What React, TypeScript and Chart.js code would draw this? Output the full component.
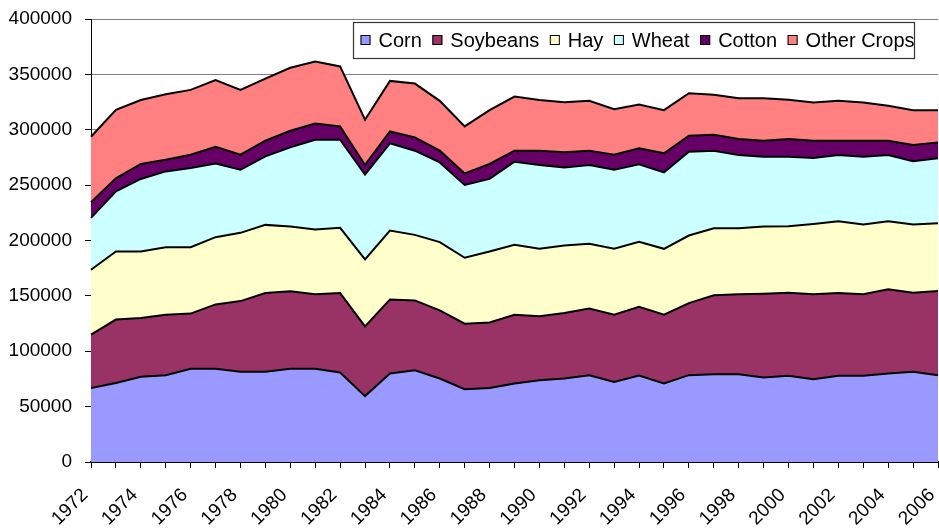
import React, { useEffect, useRef } from "react";
import { Chart, registerables } from "chart.js";

Chart.register(...registerables);

const years = [
  "1972", "1973", "1974", "1975", "1976", "1977", "1978", "1979", "1980", "1981",
  "1982", "1983", "1984", "1985", "1986", "1987", "1988", "1989", "1990", "1991",
  "1992", "1993", "1994", "1995", "1996", "1997", "1998", "1999", "2000", "2001",
  "2002", "2003", "2004", "2005", "2006",
];

const corn = [
  66900, 71400, 76900, 78400, 84100, 84100, 81400, 81400, 84100, 84100,
  80800, 59500, 79900, 82900, 75400, 65800, 66900, 70900, 73900, 75400,
  78400, 72300, 78100, 70900, 78400, 79300, 79300, 76300, 77800, 74800,
  77800, 77800, 79900, 81400, 78400,
];
const soybeans = [
  48100, 57200, 53100, 54600, 49900, 58200, 63900, 71100, 70000, 67300,
  71700, 63000, 66900, 63000, 61500, 59100, 59000, 62100, 57600, 59100,
  60100, 60700, 62100, 62100, 65100, 71200, 72100, 75700, 75100, 76600,
  74700, 73600, 76000, 71500, 75900,
];
const hay = [
  58600, 61500, 60100, 61000, 60000, 60700, 61600, 61600, 58500, 58500,
  58900, 60400, 62200, 59200, 61600, 59500, 64200, 63100, 61000, 61000,
  58500, 59500, 58600, 59500, 61000, 60600, 59700, 60600, 60000, 63600,
  64900, 63000, 61500, 61500, 61300,
];
const wheat = [
  46800, 54300, 65500, 68400, 71500, 66600, 57100, 61900, 71500, 81100,
  79600, 76600, 78700, 76000, 72000, 65800, 65500, 75100, 75700, 70500,
  71200, 71500, 70000, 69000, 75700, 70000, 66100, 63100, 62800, 59500,
  59800, 61300, 59800, 57100, 58600,
];
const cotton = [
  14100, 11700, 13500, 10600, 12000, 15100, 13500, 14100, 15000, 14700,
  12000, 8700, 10800, 12000, 10600, 10400, 13500, 9900, 12900, 13600,
  12900, 13500, 14400, 17200, 14400, 14400, 14400, 14400, 15900, 15600,
  12900, 14400, 12900, 14700, 14400,
];
const otherCrops = [
  59200, 61900, 57700, 59100, 58500, 60100, 58500, 56100, 56900, 56000,
  54200, 40800, 45600, 48600, 45000, 42400, 48600, 48900, 45700, 45200,
  45000, 41100, 39600, 39000, 38400, 36000, 36900, 38400, 35400, 34500,
  36000, 34500, 31500, 31500, 29100,
];

const seriesNames = ["Corn", "Soybeans", "Hay", "Wheat", "Cotton", "Other Crops"];
const seriesValues = [corn, soybeans, hay, wheat, cotton, otherCrops];
const seriesColors = ["#9999FF", "#993366", "#FFFFCC", "#CCFFFF", "#660066", "#FF8080"];

const FONT = '"Liberation Sans", Arial, sans-serif';

const boxLegend = {
  id: "boxLegend",
  afterDraw(chart: any) {
    const ctx = chart.ctx as CanvasRenderingContext2D;
    const bx = 353.5, by = 22.5, bw = 561, bh = 36;
    ctx.save();
    ctx.fillStyle = "#ffffff";
    ctx.fillRect(bx, by, bw, bh);
    ctx.beginPath();
    ctx.rect(bx, by, bw, bh);
    ctx.clip();
    ctx.font = `20px ${FONT}`;
    ctx.textBaseline = "middle";
    ctx.textAlign = "left";
    let x = 360.5;
    const cy = 40;
    chart.data.datasets.forEach((ds: any) => {
      ctx.fillStyle = ds.backgroundColor;
      ctx.fillRect(x, cy - 5, 10, 10);
      ctx.strokeStyle = "#000";
      ctx.lineWidth = 1;
      ctx.strokeRect(x + 0.5, cy - 4.5, 9, 9);
      ctx.fillStyle = "#000";
      ctx.fillText(ds.label, x + 18, cy + 1);
      x += 18 + ctx.measureText(ds.label).width + 10.5;
    });
    ctx.restore();
    ctx.save();
    ctx.strokeStyle = "#333";
    ctx.lineWidth = 1.2;
    ctx.strokeRect(bx, by, bw, bh);
    ctx.restore();
  },
};

const zeroPad = (s: any) => {
  s.paddingTop = 0;
  s.paddingBottom = 0;
  s.paddingLeft = 0;
  s.paddingRight = 0;
};

export default function App() {
  const canvasRef = useRef<HTMLCanvasElement | null>(null);

  useEffect(() => {
    if (!canvasRef.current) return;
    const chart = new Chart(canvasRef.current, {
      type: "line",
      data: {
        labels: years,
        datasets: seriesNames.map((name, i) => ({
          label: name,
          data: seriesValues[i],
          backgroundColor: seriesColors[i],
          borderColor: "#000000",
          borderWidth: 2,
          fill: i === 0 ? "origin" : "-1",
          pointRadius: 0,
          tension: 0,
        })),
      },
      options: {
        animation: false,
        responsive: false,
        layout: { padding: { top: 19, right: 1, left: 0, bottom: 0 } },
        plugins: {
          legend: { display: false },
          tooltip: { enabled: false },
        },
        scales: {
          x: {
            type: "category",
            offset: false,
            grid: {
              drawOnChartArea: false,
              drawTicks: true,
              tickLength: 6,
              tickColor: "#000",
              tickWidth: 1,
            },
            border: { color: "#000", width: 2 },
            ticks: {
              autoSkip: false,
              maxRotation: 45,
              minRotation: 45,
              padding: 16,
              labelOffset: -6,
              color: "#000",
              font: { family: FONT, size: 19 },
              callback: (_v: any, i: number) => (i % 2 === 0 ? years[i] : ""),
            },
            afterFit: (s: any) => {
              s.height = 67;
              zeroPad(s);
            },
          },
          y: {
            stacked: true,
            min: 0,
            max: 400000,
            grid: { color: "#808080", tickColor: "#000", tickLength: 6 },
            border: { color: "#000", width: 1 },
            ticks: {
              stepSize: 50000,
              padding: 13,
              color: "#000",
              font: { family: FONT, size: 19 },
              callback: (v: any) => String(v),
            },
            afterFit: (s: any) => {
              s.width = 91;
              zeroPad(s);
            },
          },
        },
      },
      plugins: [boxLegend],
    } as any);
    return () => chart.destroy();
  }, []);

  return (
    <div style={{ position: "fixed", left: 0, top: 0, width: 939, height: 529, background: "#fff" }}>
      <canvas ref={canvasRef} width={939} height={529} style={{ width: 939, height: 529, display: "block" }} />
    </div>
  );
}
